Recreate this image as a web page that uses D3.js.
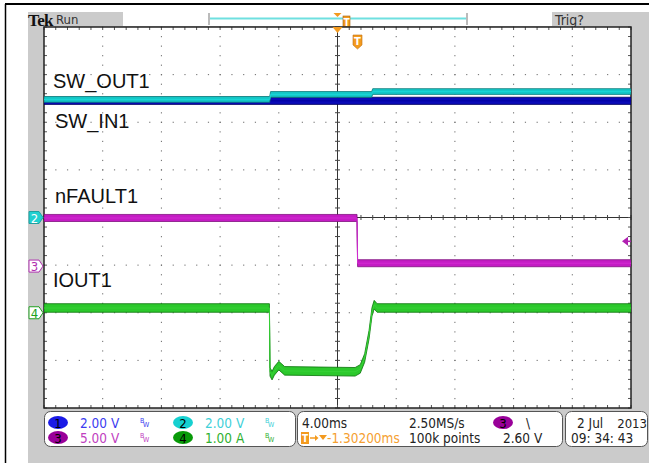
<!DOCTYPE html>
<html><head><meta charset="utf-8">
<script src="https://cdn.jsdelivr.net/npm/d3@7/dist/d3.min.js"></script>
<style>
html,body{margin:0;padding:0;background:#fff;}
svg{display:block;}
.nar{font-family:"Liberation Sans Narrow","DejaVu Sans Condensed","Liberation Sans",sans-serif;}
.lab{font-family:"Liberation Sans",Arial,sans-serif;}
</style></head>
<body>
<svg id="c" width="649" height="463"></svg>
<script>
// ---------- data (read from the scope screen) ----------
// time in ms relative to screen centre, 4 ms/div
const swOutT = [-20, -4.62, -4.56, 2.33, 2.40, 20];
const swOutV = [4.96, 4.96, 5.17, 5.17, 5.29, 5.29];      // ch2, V
const swInT  = [-20, 20];
const swInV  = [4.90, 4.90];                                // ch1, V
const nFaultT = [-20, 1.33, 1.37, 20];
const nFaultV = [5.05, 5.05, 0.30, 0.30];                   // ch3, V
const iOutT = [-20, -4.64, -4.60, -4.46, -4.30, -4.00, -3.60, 1.20, 1.55, 1.85, 2.15, 2.35, 2.50, 2.70, 20];
const iOutV = [0.10, 0.10, -1.24, -1.32, -1.22, -1.11, -1.22, -1.24, -1.18, -0.95, -0.46, 0.02, 0.17, 0.10, 0.10]; // ch4, A

const traceLabels = ["SW_OUT1", "SW_IN1", "nFAULT1", "IOUT1"];
const chNums   = ["1", "2", "3", "4"];
const chScales = ["2.00 V", "2.00 V", "5.00 V", "1.00 A"];
const chPerDiv = [2, 2, 5, 1];
const chOffsetDiv = [0, 0, -1.02, -2.0];
const timebase = "4.00ms";
const sampleRate = "2.50MS/s";
const recordLen = "100k points";
const trigDelay = "-1.30200ms";
const trigLevelTxt = "2.60 V";
const trigLevel = 2.60;
const dateTxt = ["2 Jul", "2013"];
const timeTxt = "09: 34: 43";

// ---------- scales ----------
const X0 = 44, X1 = 631, Y0 = 27, Y1 = 408;
const x = d3.scaleLinear().domain([-20, 20]).range([X0, X1]);
const yDiv = d3.scaleLinear().domain([-4, 4]).range([Y1, Y0]);
const chY = (ch, v) => yDiv(chOffsetDiv[ch] + v / chPerDiv[ch]);

const svg = d3.select("#c");

// outer frame
svg.append("rect").attr("x", 28).attr("y", 12).attr("width", 621).attr("height", 451).attr("fill", "#cbcbcb");
svg.append("line").attr("x1", 5).attr("x2", 649).attr("y1", 4).attr("y2", 4).attr("stroke", "#000").attr("stroke-width", 2);
svg.append("line").attr("x1", 5.5).attr("x2", 5.5).attr("y1", 4).attr("y2", 463).attr("stroke", "#000").attr("stroke-width", 1.5);

// top status bar
svg.append("text").attr("x", 28).attr("y", 26).attr("font-family", "Liberation Serif, serif").attr("font-weight", "bold")
  .attr("font-size", 17).attr("fill", "#111").attr("letter-spacing", -0.6).text("Tek");
svg.append("text").attr("class", "nar").attr("x", 56).attr("y", 24).attr("font-size", 13).attr("fill", "#333").text("Run");
svg.append("rect").attr("x", 123).attr("y", 12).attr("width", 429).attr("height", 14).attr("fill", "#fff");
svg.append("line").attr("x1", 210).attr("x2", 467).attr("y1", 18.5).attr("y2", 18.5).attr("stroke", "#6fe0e0").attr("stroke-width", 2);
[209, 467].forEach(b => svg.append("rect").attr("x", b - 1).attr("y", 13).attr("width", 2).attr("height", 12).attr("fill", "#bbb"));
svg.append("path").attr("d", `M${x(0)-4},13 L${x(0)+4},13 L${x(0)},17 Z`).attr("fill", "#f39a1e");
svg.append("rect").attr("x", 343).attr("y", 16).attr("width", 7).attr("height", 11).attr("fill", "#f39a1e").attr("stroke", "#a06010").attr("stroke-width", 0.6);
svg.append("text").attr("class", "nar").attr("x", 346.5).attr("y", 25.5).attr("text-anchor", "middle").attr("font-size", 10).attr("font-weight", "bold").attr("fill", "#fff").text("T");
svg.append("text").attr("class", "nar").attr("x", 555).attr("y", 25).attr("font-size", 14).attr("fill", "#333").text("Trig?");

// graticule
svg.append("rect").attr("x", X0).attr("y", Y0).attr("width", X1 - X0).attr("height", Y1 - Y0).attr("fill", "#fff");
const g = svg.append("g");
const minorX = d3.range(0, 51).map(i => -20 + i * 0.8);
const minorY = d3.range(0, 41).map(i => -4 + i * 0.2);
const majorX = d3.range(1, 10).map(i => -20 + i * 4);
const majorY = d3.range(1, 8).map(i => -4 + i);
// dotted grid
majorX.forEach(t => { if (t === 0) return; minorY.forEach(d => g.append("rect").attr("x", x(t) - 0.5).attr("y", yDiv(d) - 0.5).attr("width", 1).attr("height", 1.2).attr("fill", "#6a6a6a")); });
majorY.forEach(d => { if (d === 0) return; minorX.forEach(t => g.append("rect").attr("x", x(t) - 0.5).attr("y", yDiv(d) - 0.5).attr("width", 1.2).attr("height", 1).attr("fill", "#6a6a6a")); });
// centre lines
g.append("line").attr("x1", x(0)).attr("x2", x(0)).attr("y1", Y0).attr("y2", Y1).attr("stroke", "#333").attr("stroke-width", 1);
g.append("line").attr("x1", X0).attr("x2", X1).attr("y1", yDiv(0)).attr("y2", yDiv(0)).attr("stroke", "#333").attr("stroke-width", 1);
minorY.forEach(d => g.append("line").attr("x1", x(0) - 2.5).attr("x2", x(0) + 2.5).attr("y1", yDiv(d)).attr("y2", yDiv(d)).attr("stroke", "#444"));
minorX.forEach(t => g.append("line").attr("x1", x(t)).attr("x2", x(t)).attr("y1", yDiv(0) - 2.5).attr("y2", yDiv(0) + 2.5).attr("stroke", "#444"));
// border ticks
minorX.forEach(t => {
  g.append("line").attr("x1", x(t)).attr("x2", x(t)).attr("y1", Y0).attr("y2", Y0 + 3).attr("stroke", "#555");
  g.append("line").attr("x1", x(t)).attr("x2", x(t)).attr("y1", Y1).attr("y2", Y1 - 3).attr("stroke", "#555");
});
minorY.forEach(d => {
  g.append("line").attr("x1", X0).attr("x2", X0 + 3).attr("y1", yDiv(d)).attr("y2", yDiv(d)).attr("stroke", "#555");
  g.append("line").attr("x1", X1).attr("x2", X1 - 3).attr("y1", yDiv(d)).attr("y2", yDiv(d)).attr("stroke", "#555");
});
g.append("rect").attr("x", X0).attr("y", Y0).attr("width", X1 - X0).attr("height", Y1 - Y0).attr("fill", "none").attr("stroke", "#222").attr("stroke-width", 1.5);

// traces
svg.append("clipPath").attr("id", "gclip").append("rect").attr("x", X0).attr("y", Y0).attr("width", X1 - X0).attr("height", Y1 - Y0);
function band(ch, T, V, half, fill, edge, mid) {
  const data = T.map((t, i) => ({t, v: V[i]}));
  const area = d3.area().x(d => x(d.t)).y0(d => chY(ch, d.v - half)).y1(d => chY(ch, d.v + half));
  const line = d3.line().x(d => x(d.t)).y(d => chY(ch, d.v));
  const grp = svg.append("g").attr("clip-path", "url(#gclip)");
  grp.append("path").attr("d", area(data)).attr("fill", fill).attr("stroke", edge).attr("stroke-width", 0.8);
  grp.append("path").attr("d", line(data)).attr("fill", "none").attr("stroke", mid).attr("stroke-width", 1);
}
band(0, swInT, swInV, 0.15, "#0a0ab8", "#00005a", "#0000a0");
band(1, swOutT, swOutV, 0.12, "#14c8c8", "#0a7a7a", "#1ad6d6");
band(2, nFaultT, nFaultV, 0.37, "#c41cc4", "#80107f", "#d22ad2");
band(3, iOutT, iOutV, 0.09, "#2cc82c", "#0b740b", "#36d236");

// trace labels
const labY = [88, 128, 203, 287], labX = [53, 55, 55, 53];
traceLabels.forEach((s, i) => svg.append("text").attr("class", "lab").attr("x", labX[i]).attr("y", labY[i]).attr("font-size", 20).attr("fill", "#111").text(s));

// channel ground markers
const mk = [{ch: 1, fill: "#20d0d0", stroke: "#20a0a0", txt: "#fff"}, {ch: 2, fill: "#fff", stroke: "#b030b0", txt: "#b030b0"}, {ch: 3, fill: "#fff", stroke: "#20a020", txt: "#20a020"}];
mk.forEach(m => {
  const yy = yDiv(chOffsetDiv[m.ch]);
  svg.append("path").attr("d", `M29,${yy-6} L39,${yy-6} L43,${yy} L39,${yy+6} L29,${yy+6} Z`).attr("fill", m.fill).attr("stroke", m.stroke).attr("stroke-width", 1);
  svg.append("text").attr("class", "nar").attr("x", 34.5).attr("y", yy + 5).attr("text-anchor", "middle").attr("font-size", 13).attr("fill", m.txt).text(chNums[m.ch]);
});
// trigger level marker (ch3)
const ty = chY(2, trigLevel);
svg.append("path").attr("d", `M${X1-9},${ty} L${X1-3},${ty-4.5} L${X1-3},${ty+4.5} Z`).attr("fill", "#b020b0");
svg.append("line").attr("x1", X1 - 4).attr("x2", X1).attr("y1", ty).attr("y2", ty).attr("stroke", "#b020b0").attr("stroke-width", 1.5);
// trigger position markers
svg.append("path").attr("d", `M${x(0)-5},${Y0} L${x(0)+5},${Y0} L${x(0)},${Y0+6} Z`).attr("fill", "#f39a1e");
svg.append("path").attr("d", "M353,35 L362,35 L362,45 L357.5,49 L353,45 Z").attr("fill", "#f39a1e").attr("stroke", "#c07010").attr("stroke-width", 0.6);
svg.append("text").attr("class", "nar").attr("x", 357.5).attr("y", 45).attr("text-anchor", "middle").attr("font-size", 11).attr("font-weight", "bold").attr("fill", "#fff").text("T");

// readout boxes
const boxes = [[44, 295], [297, 562], [565, 647]];
boxes.forEach(b => svg.append("rect").attr("x", b[0] + 0.5).attr("y", 411.5).attr("width", b[1] - b[0]).attr("height", 35).attr("rx", 6).attr("fill", "#fff").attr("stroke", "#555").attr("stroke-width", 1));

const chFill = ["#1a1ae6", "#16d0d0", "#990099", "#089a08"];
const chTxtCol = ["#3b3bf0", "#40d0d8", "#c040c0", "#30b030"];
const rowY = [428, 443], circY = [422.5, 437.5];
chNums.forEach((n, i) => {
  const col = i % 2;
  const row = i < 2 ? 0 : 1;
  const cx = col === 0 ? 58 : 183;
  svg.append("ellipse").attr("cx", cx).attr("cy", circY[row]).attr("rx", 10).attr("ry", 6.5).attr("fill", chFill[i]);
  svg.append("text").attr("class", "nar").attr("x", cx).attr("y", rowY[row]).attr("text-anchor", "middle").attr("font-size", 13).attr("fill", "#000").text(n);
  svg.append("text").attr("class", "nar").attr("x", cx + 22).attr("y", rowY[row]).attr("font-size", 13.5).attr("fill", chTxtCol[i]).text(chScales[i]);
  const bx = cx + 82;
  svg.append("text").attr("class", "nar").attr("x", bx).attr("y", rowY[row] - 5).attr("font-size", 7).attr("fill", chTxtCol[i]).text("B");
  svg.append("text").attr("class", "nar").attr("x", bx + 3).attr("y", rowY[row] - 1).attr("font-size", 7).attr("fill", chTxtCol[i]).text("W");
});

// horizontal / trigger readout
svg.append("text").attr("class", "nar").attr("x", 302).attr("y", rowY[0]).attr("font-size", 13.5).attr("fill", "#222").text(timebase);
svg.append("text").attr("class", "nar").attr("x", 409).attr("y", rowY[0]).attr("font-size", 13.5).attr("fill", "#222").text(sampleRate);
svg.append("text").attr("class", "nar").attr("x", 409).attr("y", rowY[1]).attr("font-size", 13.5).attr("fill", "#222").text(recordLen);
svg.append("ellipse").attr("cx", 503).attr("cy", circY[0]).attr("rx", 10).attr("ry", 6.5).attr("fill", chFill[2]);
svg.append("text").attr("class", "nar").attr("x", 503).attr("y", rowY[0]).attr("text-anchor", "middle").attr("font-size", 13).attr("fill", "#000").text("3");
svg.append("text").attr("class", "nar").attr("x", 526).attr("y", rowY[0]).attr("font-size", 13.5).attr("fill", "#222").text("\\");
svg.append("text").attr("class", "nar").attr("x", 503).attr("y", rowY[1]).attr("font-size", 13.5).attr("fill", "#222").text(trigLevelTxt);
svg.append("rect").attr("x", 301).attr("y", 432).attr("width", 8).attr("height", 12).attr("fill", "#f39a1e");
svg.append("text").attr("class", "nar").attr("x", 305).attr("y", 442).attr("text-anchor", "middle").attr("font-size", 10).attr("font-weight", "bold").attr("fill", "#fff").text("T");
svg.append("line").attr("x1", 310).attr("x2", 316).attr("y1", 438).attr("y2", 438).attr("stroke", "#f39a1e").attr("stroke-width", 1.5);
svg.append("path").attr("d", "M315,435 L318.5,438 L315,441 Z").attr("fill", "#f39a1e");
svg.append("path").attr("d", "M319,435 L327,435 L323,440 Z").attr("fill", "#f39a1e");
svg.append("text").attr("class", "nar").attr("x", 327).attr("y", rowY[1]).attr("font-size", 13.5).attr("fill", "#f5a030").text(trigDelay);

// date / time
svg.append("text").attr("class", "nar").attr("x", 577).attr("y", rowY[0]).attr("font-size", 13.5).attr("fill", "#222").text(dateTxt[0]);
svg.append("text").attr("class", "nar").attr("x", 647).attr("y", rowY[0]).attr("text-anchor", "end").attr("font-size", 13).attr("fill", "#222").text(dateTxt[1]);
svg.append("text").attr("class", "nar").attr("x", 571).attr("y", rowY[1]).attr("font-size", 13.5).attr("fill", "#222").text(timeTxt);
</script>
</body></html>
